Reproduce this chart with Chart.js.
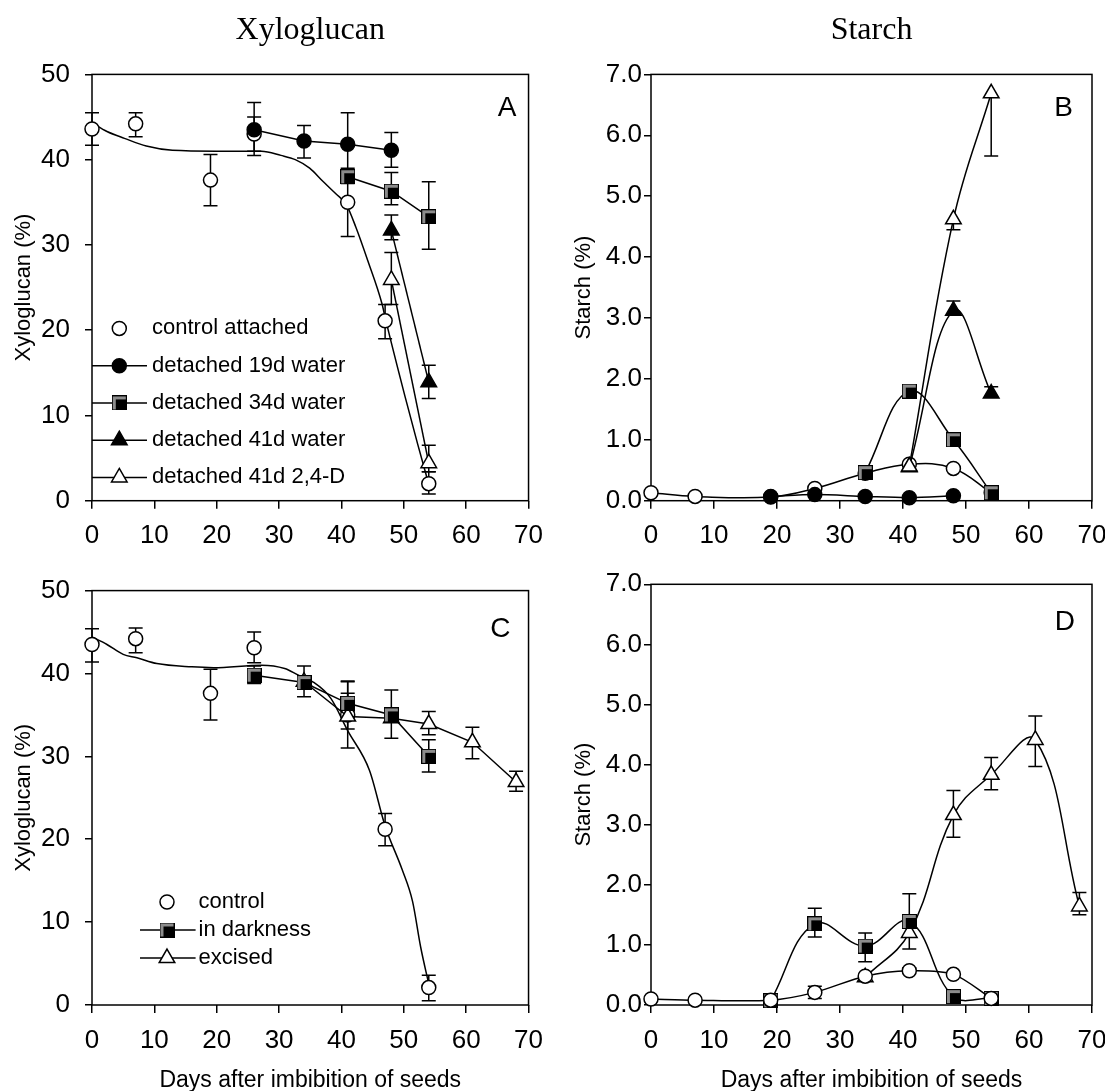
<!DOCTYPE html>
<html lang="en">
<head>
<meta charset="UTF-8">
<title>Xyloglucan and starch</title>
<script src="https://cdn.jsdelivr.net/npm/chart.js@4.4.1/dist/chart.umd.min.js"></script>
<style>
  html, body { margin: 0; padding: 0; background: #fff; overflow: hidden; width: 1105px; height: 1091px; }
  canvas { position: absolute; }
</style>
</head>
<body>
<canvas id="chartA" width="555" height="560" style="left:0;top:0"></canvas>
<canvas id="chartB" width="580" height="560" style="left:555px;top:0"></canvas>
<canvas id="chartC" width="555" height="545" style="left:0;top:560px"></canvas>
<canvas id="chartD" width="580" height="545" style="left:555px;top:560px"></canvas>

<script>
// ticks
const xTicks = [0, 10, 20, 30, 40, 50, 60, 70];
const xyloTicks = [0, 10, 20, 30, 40, 50];
const starchTicks = [0, 1, 2, 3, 4, 5, 6, 7];

// Panel A - xyloglucan, detached cotyledons
const aCtrlX = [0, 7, 19, 26, 41, 47, 54];
const aCtrlY = [43.6, 44.2, 37.6, 43.0, 35.0, 21.1, 2.0];
const aCtrlUp = [1.9, 1.3, 3.0, 2.0, 4.0, 1.9, 1.4];
const aCtrlDn = [1.9, 1.5, 3.0, 2.0, 4.0, 2.1, 1.2];
const aFitX = [0, 2.4, 5.2, 8.7, 12.9, 20, 27.2, 30.3, 32.6, 34.9, 37.1, 39.1, 40.8, 42.3, 44.2, 46.5, 47.1, 50.2, 52.2, 53.9];
const aFitY = [44.3, 43.3, 42.5, 41.6, 41.1, 41.0, 41.0, 40.5, 40.0, 39.0, 37.4, 36.0, 34.7, 32.1, 28.2, 23.1, 21.2, 12.2, 6.7, 2.2];
const a19X = [26, 34, 41, 48];
const a19Y = [43.5, 42.2, 41.8, 41.1];
const a19Up = [3.2, 1.8, 3.7, 2.1];
const a19Dn = [3.0, 2.0, 3.7, 2.0];
const a34X = [41, 48, 54];
const a34Y = [38.0, 36.3, 33.3];
const a34Up = [0.8, 2.2, 4.1];
const a34Dn = [0.8, 1.6, 3.8];
const a41wX = [48, 54];
const a41wY = [31.7, 13.9];
const a41wUp = [1.8, 2.0];
const a41wDn = [1.1, 1.9];
const a41dX = [48, 54];
const a41dY = [25.9, 4.4];
const a41dUp = [3.2, 2.1];
const a41dDn = [2.9, 1.0];
const aLabels = ['control attached', 'detached 19d water', 'detached 34d water', 'detached 41d water', 'detached 41d 2,4-D'];

// Panel B - starch, detached cotyledons
const bCtrlX = [0, 7, 19, 26, 34, 41, 48, 54];
const bCtrlY = [0.13, 0.07, 0.06, 0.20, 0.45, 0.60, 0.53, 0.13];
const b19X = [19, 26, 34, 41, 48];
const b19Y = [0.07, 0.10, 0.07, 0.05, 0.08];
const b34X = [34, 41, 48, 54];
const b34Y = [0.46, 1.80, 1.00, 0.13];
const b34Up = [0.04, 0.10, 0.05, 0.05];
const b41wX = [41, 48, 54];
const b41wY = [0.55, 3.12, 1.76];
const b41wUp = [0, 0.16, 0.11];
const b41dX = [41, 48, 54];
const b41dY = [0.56, 4.62, 6.69];
const b41dDn = [0, 0.17, 1.03];

// Panel C - xyloglucan, darkness / excised
const cCtrlX = [0, 7, 19, 26, 41, 47, 54];
const cCtrlY = [43.5, 44.2, 37.6, 43.1, 35.0, 21.2, 2.1];
const cCtrlUp = [1.9, 1.3, 2.9, 1.9, 4.0, 1.9, 1.5];
const cCtrlDn = [2.1, 1.7, 3.2, 1.8, 4.0, 2.0, 1.6];
const cFitX = [0, 2.4, 5.0, 7.2, 10.4, 16, 19.5, 27.2, 30.9, 33.1, 35.4, 38.3, 41, 44.5, 47, 49.7, 51.4, 52.7, 54.1];
const cFitY = [44.4, 43.5, 42.3, 41.9, 41.2, 40.8, 40.7, 41.0, 40.6, 39.8, 39.0, 37.0, 33.1, 28.3, 21.6, 16.4, 12.5, 7.0, 2.2];
const cDarkX = [26, 34, 41, 48, 54];
const cDarkY = [39.8, 38.9, 36.4, 35.0, 30.0];
const cDarkUp = [1.1, 2.0, 2.7, 3.0, 2.0];
const cDarkDn = [1.0, 1.7, 1.0, 2.8, 1.9];
const cExcX = [34, 41, 48, 54, 61, 68];
const cExcY = [39.0, 34.8, 34.6, 33.9, 31.7, 26.9];
const cExcUp = [0, 2.8, 0, 1.5, 1.8, 1.3];
const cExcDn = [0, 1.5, 0, 1.3, 2.0, 1.1];
const cLabels = ['control', 'in darkness', 'excised'];

// Panel D - starch, darkness / excised
const dCtrlX = [0, 7, 19, 26, 34, 41, 48, 54];
const dCtrlY = [0.10, 0.08, 0.08, 0.21, 0.48, 0.57, 0.51, 0.11];
const dCtrlUp = [0, 0, 0, 0.10, 0, 0.05, 0, 0];
const dCtrlDn = [0, 0, 0, 0.10, 0, 0, 0, 0];
const dDarkX = [19, 26, 34, 41, 48, 54];
const dDarkY = [0.07, 1.35, 0.98, 1.39, 0.14, 0.11];
const dDarkUp = [0, 0.26, 0.22, 0.46, 0, 0];
const dDarkDn = [0, 0.22, 0.26, 0, 0, 0];
const dExcX = [34, 41, 48, 54, 61, 68];
const dExcY = [0.46, 1.20, 3.16, 3.83, 4.41, 1.64];
const dExcUp = [0, 0.20, 0.41, 0.29, 0.40, 0.23];
const dExcDn = [0, 0.27, 0.37, 0.25, 0.44, 0.14];

const SANS = "'Liberation Sans', Arial, Helvetica, sans-serif";
Chart.defaults.font.family = SANS;
Chart.defaults.color = '#000';

// half grey / black square marker
const squareImg = (function () {
    const c = document.createElement('canvas');
    c.width = 15; c.height = 15;
    const g = c.getContext('2d');
    g.fillStyle = '#8c8c8c';
    g.fillRect(0, 0, 15, 15);
    g.fillStyle = '#000';
    g.fillRect(4, 4, 11, 11);
    g.strokeStyle = '#000';
    g.lineWidth = 1;
    g.strokeRect(0.5, 0.5, 14, 14);
    return c;
})();

const MARK = {
    openCircle: {pointStyle: 'circle', pointRadius: 7, pointBackgroundColor: '#fff'},
    filledCircle: {pointStyle: 'circle', pointRadius: 7, pointBackgroundColor: '#000'},
    square: {pointStyle: squareImg, pointRadius: 7, pointBackgroundColor: '#000'},
    filledTriangle: {pointStyle: 'triangle', pointRadius: 9, pointBackgroundColor: '#000'},
    openTriangle: {pointStyle: 'triangle', pointRadius: 9, pointBackgroundColor: '#fff'}
};

function series(xs, ys, up, dn, mark, tension) {
    return Object.assign({
        data: xs.map((x, i) => ({x: x, y: ys[i]})),
        errUp: up, errDown: dn,
        showLine: true,
        borderColor: '#000', borderWidth: 1.5,
        pointBorderColor: '#000', pointBorderWidth: 1.5,
        tension: tension || 0,
        clip: false
    }, MARK[mark]);
}

function fitLine(xs, ys) {
    return {
        data: xs.map((x, i) => ({x: x, y: ys[i]})),
        showLine: true, borderColor: '#000', borderWidth: 1.5,
        pointRadius: 0, cubicInterpolationMode: 'monotone', clip: false
    };
}

function drawMark(ctx, kind, x, y) {
    const m = MARK[kind];
    if (m.pointStyle === squareImg) {
        ctx.drawImage(squareImg, x - 7.5, y - 7.5);
        return;
    }
    const r = m.pointRadius;
    ctx.beginPath();
    if (m.pointStyle === 'circle') {
        ctx.arc(x, y, r, 0, Math.PI * 2);
    } else {
        ctx.moveTo(x, y - r);
        ctx.lineTo(x + r * 0.866, y + r * 0.5);
        ctx.lineTo(x - r * 0.866, y + r * 0.5);
        ctx.closePath();
    }
    ctx.fillStyle = m.pointBackgroundColor;
    ctx.fill();
    ctx.lineWidth = 1.5;
    ctx.strokeStyle = '#000';
    ctx.stroke();
}

const framePlugin = {
    id: 'frame',
    beforeDatasetsDraw(chart) {
        const {ctx, chartArea: a} = chart;
        ctx.save();
        ctx.strokeStyle = '#000';
        ctx.lineWidth = 1.5;
        ctx.strokeRect(a.left, a.top, a.right - a.left, a.bottom - a.top);
        ctx.restore();
    }
};

const errorBarPlugin = {
    id: 'errorBars',
    beforeDatasetsDraw(chart) {
        const {ctx, scales: {x, y}} = chart;
        ctx.save();
        ctx.strokeStyle = '#000';
        ctx.lineWidth = 1.5;
        const bar = (px, y0, y1) => {
            ctx.beginPath();
            ctx.moveTo(px, y0); ctx.lineTo(px, y1);
            ctx.moveTo(px - 7, y1); ctx.lineTo(px + 7, y1);
            ctx.stroke();
        };
        chart.data.datasets.forEach(ds => {
            ds.data.forEach((p, i) => {
                const px = x.getPixelForValue(p.x);
                const py = y.getPixelForValue(p.y);
                if (ds.errUp && ds.errUp[i] > 0) bar(px, py, y.getPixelForValue(p.y + ds.errUp[i]));
                if (ds.errDown && ds.errDown[i] > 0) bar(px, py, y.getPixelForValue(p.y - ds.errDown[i]));
            });
        });
        ctx.restore();
    }
};

const tagPlugin = {
    id: 'panelTag',
    afterDatasetsDraw(chart, args, o) {
        const {ctx, chartArea: a} = chart;
        ctx.save();
        ctx.font = '28px ' + SANS;
        ctx.fillStyle = '#000';
        ctx.textAlign = 'right';
        ctx.textBaseline = 'alphabetic';
        ctx.fillText(o.text, a.right - o.dx, a.top + o.dy);
        ctx.restore();
    }
};

const keyPlugin = {
    id: 'keyBox',
    afterDatasetsDraw(chart, args, o) {
        if (!o.items) return;
        const {ctx, chartArea: a} = chart;
        ctx.save();
        ctx.font = '22px ' + SANS;
        ctx.textBaseline = 'middle';
        ctx.textAlign = 'left';
        o.items.forEach((it, i) => {
            const y = a.top + o.top + i * o.gap;
            if (it.line) {
                ctx.strokeStyle = '#000';
                ctx.lineWidth = 1.5;
                ctx.beginPath();
                ctx.moveTo(a.left + o.lineFrom, y);
                ctx.lineTo(a.left + o.lineTo, y);
                ctx.stroke();
            }
            drawMark(ctx, it.mark, a.left + o.markAt, y);
            ctx.fillStyle = '#000';
            ctx.fillText(it.label, a.left + o.textAt, y);
        });
        ctx.restore();
    }
};

function panel(id, cfg) {
    return new Chart(document.getElementById(id), {
        type: 'scatter',
        data: {datasets: cfg.datasets},
        options: {
            responsive: false,
            animation: false,
            devicePixelRatio: 1,
            events: [],
            layout: {padding: {top: cfg.padTop, right: cfg.padRight, left: 0, bottom: 0}},
            plugins: {
                legend: {display: false},
                tooltip: {enabled: false},
                title: cfg.title ? {
                    display: true, text: cfg.title, fullSize: false, color: '#000',
                    font: {family: "'Liberation Serif', 'Times New Roman', serif", size: 32, weight: 'normal'},
                    padding: {top: 11, bottom: 25}
                } : {display: false},
                panelTag: {text: cfg.tag, dx: cfg.tagDx, dy: cfg.tagDy},
                keyBox: cfg.key || {}
            },
            scales: {
                x: {
                    type: 'linear', min: 0, max: 70,
                    afterBuildTicks: s => { s.ticks = xTicks.map(v => ({value: v})); },
                    afterFit: s => { s.height = cfg.xHeight; },
                    grid: {drawOnChartArea: false, drawTicks: true, tickLength: 8, color: '#000', lineWidth: 1.5},
                    border: {display: false},
                    ticks: {font: {size: 26}, padding: 12, color: '#000', maxRotation: 0, autoSkip: false},
                    title: cfg.xTitle ? {
                        display: true, text: cfg.xTitle, color: '#000',
                        font: {size: 23}, padding: {top: 0, bottom: 11}
                    } : {display: false}
                },
                y: {
                    type: 'linear', min: 0, max: cfg.yMax,
                    afterBuildTicks: s => { s.ticks = cfg.yTicks.map(v => ({value: v})); },
                    afterFit: s => { s.width = cfg.yWidth; },
                    grid: {drawOnChartArea: false, drawTicks: true, tickLength: 7, color: '#000', lineWidth: 1.5},
                    border: {display: false},
                    ticks: {font: {size: 26}, padding: cfg.yPad, color: '#000', callback: cfg.yFmt},
                    title: {
                        display: true, text: cfg.yTitle, color: '#000',
                        font: {size: 22}, padding: {top: cfg.yTitlePad, bottom: 0}
                    }
                }
            }
        },
        plugins: [framePlugin, errorBarPlugin, tagPlugin, keyPlugin]
    });
}

const xyloFmt = v => String(v);
const starchFmt = v => v.toFixed(1);
const daysTitle = 'Days after imbibition of seeds';

panel('chartA', {
    title: 'Xyloglucan', padTop: 0, padRight: 22, xHeight: 59.3, yWidth: 92,
    yMax: 50, yTicks: xyloTicks, yFmt: xyloFmt, yPad: 15, yTitle: 'Xyloglucan (%)', yTitlePad: 11,
    tag: 'A', tagDx: 12, tagDy: 42,
    datasets: [
        series(a41dX, a41dY, a41dUp, a41dDn, 'openTriangle'),
        series(a41wX, a41wY, a41wUp, a41wDn, 'filledTriangle'),
        series(a34X, a34Y, a34Up, a34Dn, 'square'),
        series(a19X, a19Y, a19Up, a19Dn, 'filledCircle'),
        Object.assign(series(aCtrlX, aCtrlY, aCtrlUp, aCtrlDn, 'openCircle'), {showLine: false}),
        fitLine(aFitX, aFitY)
    ],
    key: {
        top: 254, gap: 37.25, lineFrom: 0, lineTo: 55, markAt: 27.3, textAt: 60,
        items: [
            {label: aLabels[0], mark: 'openCircle', line: false},
            {label: aLabels[1], mark: 'filledCircle', line: true},
            {label: aLabels[2], mark: 'square', line: true},
            {label: aLabels[3], mark: 'filledTriangle', line: true},
            {label: aLabels[4], mark: 'openTriangle', line: true}
        ]
    }
});

panel('chartB', {
    title: 'Starch', padTop: 0, padRight: 43, xHeight: 59.3, yWidth: 96,
    yMax: 7, yTicks: starchTicks, yFmt: starchFmt, yPad: 2, yTitle: 'Starch (%)', yTitlePad: 16,
    tag: 'B', tagDx: 19, tagDy: 42,
    datasets: [
        series(b41dX, b41dY, null, b41dDn, 'openTriangle', 0.4),
        series(b41wX, b41wY, b41wUp, null, 'filledTriangle', 0.4),
        series(b34X, b34Y, b34Up, null, 'square', 0.4),
        series(b19X, b19Y, null, null, 'filledCircle', 0.3),
        series(bCtrlX, bCtrlY, null, null, 'openCircle', 0.4)
    ]
});

panel('chartC', {
    title: null, padTop: 24.3, padRight: 22, xHeight: 100, yWidth: 92, xTitle: daysTitle,
    yMax: 50, yTicks: xyloTicks, yFmt: xyloFmt, yPad: 15, yTitle: 'Xyloglucan (%)', yTitlePad: 11,
    tag: 'C', tagDx: 18, tagDy: 46,
    datasets: [
        series(cDarkX, cDarkY, cDarkUp, cDarkDn, 'square'),
        series(cExcX, cExcY, cExcUp, cExcDn, 'openTriangle'),
        Object.assign(series(cCtrlX, cCtrlY, cCtrlUp, cCtrlDn, 'openCircle'), {showLine: false}),
        fitLine(cFitX, cFitY)
    ],
    key: {
        top: 311.4, gap: 28, lineFrom: 48, lineTo: 103.6, markAt: 75, textAt: 106.5,
        items: [
            {label: cLabels[0], mark: 'openCircle', line: false},
            {label: cLabels[1], mark: 'square', line: true},
            {label: cLabels[2], mark: 'openTriangle', line: true}
        ]
    }
});

panel('chartD', {
    title: null, padTop: 24.3, padRight: 43, xHeight: 100, yWidth: 96, xTitle: daysTitle,
    yMax: 7, yTicks: starchTicks, yFmt: starchFmt, yPad: 2, yTitle: 'Starch (%)', yTitlePad: 16,
    tag: 'D', tagDx: 17, tagDy: 46,
    datasets: [
        series(dCtrlX, dCtrlY, dCtrlUp, dCtrlDn, 'openCircle', 0.3),
        series(dDarkX, dDarkY, dDarkUp, dDarkDn, 'square', 0.4),
        series(dExcX, dExcY, dExcUp, dExcDn, 'openTriangle', 0.4)
    ]
});
</script>
</body>
</html>
